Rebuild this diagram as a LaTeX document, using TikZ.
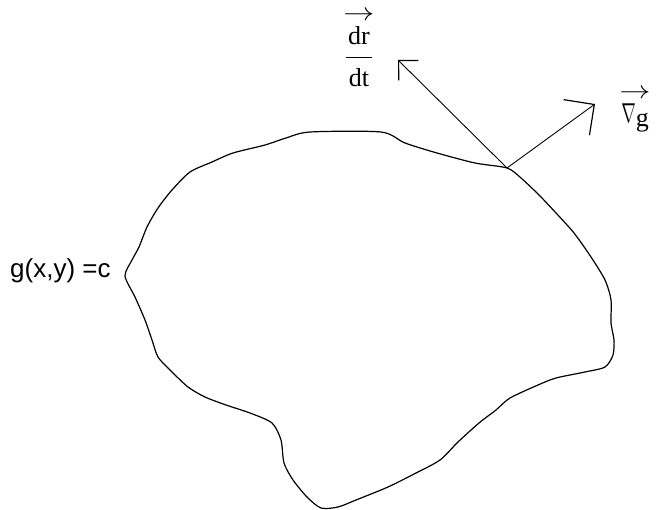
\documentclass[tikz,border=0pt]{standalone}
\usepackage{amsmath}
\usepackage{graphicx}
\usepackage{fontspec}
\setmainfont{Liberation Serif}
\newfontfamily\labelsans{Liberation Sans}
\usepackage{tikz}
\usetikzlibrary{arrows.meta, calc, positioning}

\newcommand{\thinnabla}{\scalebox{0.7}[1.1]{$\nabla$}}
\newcommand{\vecbar}{\scalebox{1.25}[1]{$\rightarrow$}}

\begin{document}
\begin{tikzpicture}[x=1pt, y=-1pt,
    level curve/.style={line width=1.2pt, line join=round},
    vec arrow/.style={line width=0.9pt},
    small barb/.style={-{Straight Barb[length=14pt, width=28pt, line width=1.2pt]}},
    big barb/.style={-{Straight Barb[length=22pt, width=44pt, line width=1.2pt]}},
    label font/.style={font=\fontsize{26}{30}\selectfont, inner sep=0pt}]
\useasboundingbox (0,0) rectangle (658,510);
\draw[level curve] plot[smooth cycle, tension=0.45] coordinates {
    (310,132) (381,132) (405,143) (437,153) (475,163) (507,168)
    (521,178) (539,195) (556,213) (574,233) (591,257) (605,280)
    (611,300) (611,323) (614,340) (613,355) (605,367) (585,372)
    (556,378) (538,385) (510,398) (496,410) (479,423) (458,442)
    (440,460) (416,473) (388,487) (356,500) (338,507) (321,508)
    (307,497) (293,480) (284,463) (281,440) (272,423) (250,413)
    (226,405) (205,397) (188,387) (170,370) (158,357) (152,340)
    (145,320) (135,297) (125,276) (132,260) (139,247) (147,227)
    (158,208) (172,190) (190,172) (212,162) (233,153) (265,145)
    (286,138)};
\coordinate (touch) at (507,168);
\coordinate (tangent tip) at (398,60);
\coordinate (gradient tip) at (595,104);
\draw[vec arrow, small barb] (touch) -- (tangent tip);
\draw[vec arrow, big barb] (touch) -- (gradient tip);
\node[label font, align=center, anchor=north] (velocity) at (359,11)
    {\vecbar\\[-5.5pt]dr\\[-16.5pt]\rule{26pt}{0.9pt}\\[-1.5pt]dt};
\node[label font, align=center, anchor=north] (gradient) at (635,89)
    {\vecbar\\[-6pt]\thinnabla\raisebox{-4pt}{g}};
\node[label font, anchor=base west] (level) at (10,278)
    {\labelsans g(x,y) =c};
\end{tikzpicture}
\end{document}
